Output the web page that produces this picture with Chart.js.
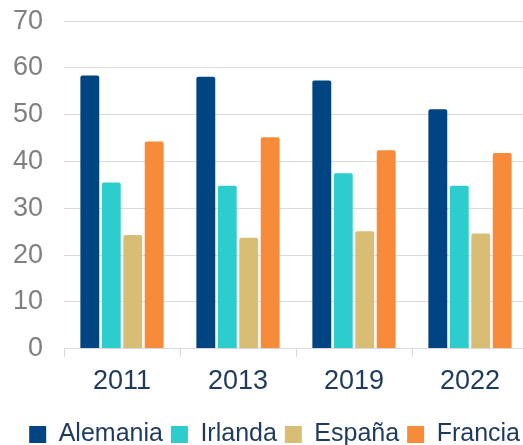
<!DOCTYPE html>
<html>
<head>
<meta charset="utf-8">
<script src="https://cdn.jsdelivr.net/npm/chart.js@4"></script>
<style>
  html, body { margin: 0; padding: 0; background: #fff; overflow: hidden; }
  #wrap { width: 528px; height: 473px; margin-top: -16px; }
</style>
</head>
<body>
<div id="wrap"><canvas id="myBarChart" width="528" height="473"></canvas></div>
<script>
// years on the x axis
const years = ['2011', '2013', '2019', '2022'];
// values per country
const alemania = [58.4, 58.1, 57.3, 51.2];
const irlanda = [35.5, 34.8, 37.5, 34.8];
const espana = [24.3, 23.7, 25.1, 24.6];
const francia = [44.3, 45.2, 42.4, 41.8];
const yTicks = [0, 10, 20, 30, 40, 50, 60, 70];

const font = 'Liberation Sans, Arial, sans-serif';

function series(label, data, color) {
    return {
        label: label,
        data: data,
        backgroundColor: color,
        borderColor: color,
        borderWidth: 0,
        borderRadius: 2,
        barPercentage: 0.88,
        categoryPercentage: 0.74
    };
}

document.addEventListener('DOMContentLoaded', function () {
    const ctx = document.getElementById('myBarChart').getContext('2d');
    new Chart(ctx, {
        type: 'bar',
        data: {
            labels: years,
            datasets: [
                series('Alemania', alemania, '#004481'),
                series('Irlanda', irlanda, '#2dcccd'),
                series('España', espana, '#d8be75'),
                series('Francia', francia, '#f78b3a')
            ]
        },
        options: {
            responsive: false,
            animation: false,
            layout: { padding: { top: 4, right: 0, left: 0, bottom: 0 } },
            plugins: {
                tooltip: { enabled: false },
                legend: {
                    position: 'bottom',
                    align: 'end',
                    labels: {
                        color: '#1f3a5f',
                        font: { family: font, size: 25 },
                        boxWidth: 17,
                        boxHeight: 17,
                        padding: 8
                    }
                }
            },
            scales: {
                x: {
                    afterFit: function (scale) { scale.height += 7; },
                    grid: { drawOnChartArea: false, color: '#d9d9d9', tickLength: 8 },
                    border: { color: '#d9d9d9' },
                    ticks: { color: '#1f3a5f', font: { family: font, size: 27 }, padding: 9 }
                },
                y: {
                    min: 0,
                    max: 70,
                    afterBuildTicks: function (scale) {
                        scale.ticks = yTicks.map(v => ({ value: v }));
                    },
                    afterFit: function (scale) { scale.width = 64; },
                    grid: { color: '#d9d9d9', drawTicks: false },
                    border: { display: false },
                    ticks: { color: '#808080', font: { family: font, size: 27 }, padding: 21 }
                }
            }
        }
    });
});
</script>
</body>
</html>
